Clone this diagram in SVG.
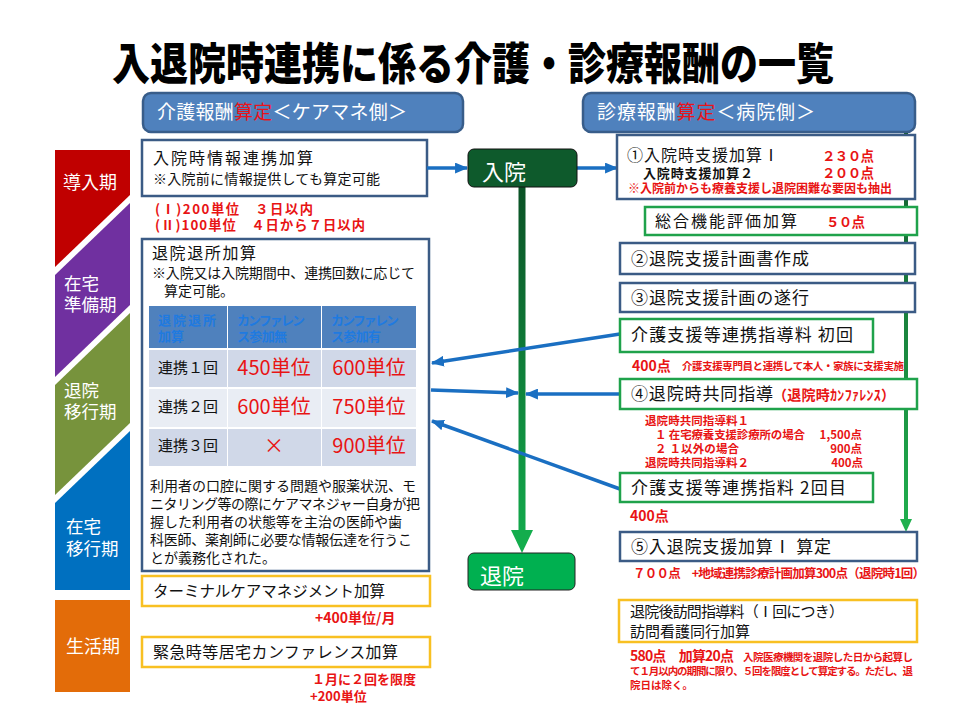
<svg xmlns="http://www.w3.org/2000/svg" width="960" height="720" viewBox="0 0 960 720">
<defs>
<style>
text{font-family:"Noto Sans CJK JP","Noto Sans",sans-serif;fill:#111}
.w{fill:#fff}
.r{fill:#e81414;font-weight:bold}
.b{font-weight:bold}
.hdr{fill:#4f81bd;stroke:#385d8a;stroke-width:2.5}
.bx{fill:#fff;stroke:#3b5b85;stroke-width:2.5}
.gb{fill:#fff;stroke:#1fa24b;stroke-width:2.5}
.yb{fill:#fff;stroke:#f8c022;stroke-width:2.5}
.arr{stroke:#1a6fc2;stroke-width:3.5;fill:none;marker-end:url(#ah)}
.th{fill:#4f81bd}
.tht{fill:#1f7ae0;font-weight:bold;font-size:13px}
.r1{fill:#d0d8e8}
.r2{fill:#e9edf4}
.red20{fill:#e81414;font-size:20px}
.ph{fill:#fff;font-size:17.5px}
</style>
<marker id="ah" viewBox="0 0 12 10" refX="11" refY="5" markerWidth="13" markerHeight="11" markerUnits="userSpaceOnUse" orient="auto">
<path d="M0,0 L12,5 L0,10 Z" fill="#1a6fc2"/>
</marker>
<linearGradient id="gc" x1="0" y1="188" x2="0" y2="553" gradientUnits="userSpaceOnUse">
<stop offset="0" stop-color="#0b5226"/>
<stop offset="1" stop-color="#13ad4d"/>
</linearGradient>
<linearGradient id="gr" x1="0" y1="132" x2="0" y2="532" gradientUnits="userSpaceOnUse">
<stop offset="0" stop-color="#145a2e"/>
<stop offset="1" stop-color="#20b04e"/>
</linearGradient>
</defs>
<rect width="960" height="720" fill="#fff"/>

<text x="112" y="80" font-size="44" font-weight="900" textLength="722" lengthAdjust="spacingAndGlyphs" style="fill:#000">入退院時連携に係る介護・診療報酬の一覧</text>

<g id="phases">
<polygon points="55,150 130,150 130,195 55,267" fill="#c00000"/>
<polygon points="130,203 130,305 55,377 55,275" fill="#7030a0"/>
<polygon points="130,313 130,423 55,495 55,385" fill="#77933c"/>
<polygon points="130,431 130,590 55,590 55,503" fill="#0070c0"/>
<rect x="55" y="600" width="75" height="92" fill="#e36c09"/>
<text class="ph" x="63" y="189" style="font-size:18px">導入期</text>
<text class="ph" x="64" y="290">在宅</text>
<text class="ph" x="64" y="311">準備期</text>
<text class="ph" x="64" y="397">退院</text>
<text class="ph" x="64" y="418">移行期</text>
<text class="ph" x="66" y="533">在宅</text>
<text class="ph" x="66" y="555">移行期</text>
<text class="ph" x="66" y="653" style="font-size:18px">生活期</text>
</g>

<g id="hdr-care">
<rect class="hdr" x="143" y="93" width="320" height="39" rx="8"/>
<text x="157" y="119" font-size="19" textLength="250"><tspan class="w">介護報酬</tspan><tspan style="fill:#e8141b">算定</tspan><tspan class="w">＜ケアマネ側＞</tspan></text>
</g>
<g id="hdr-hosp">
<rect class="hdr" x="583" y="93" width="332" height="39" rx="8"/>
<text x="597" y="119" font-size="19" textLength="218"><tspan class="w">診療報酬</tspan><tspan style="fill:#e8141b">算定</tspan><tspan class="w">＜病院側＞</tspan></text>
</g>

<g id="n-admit-info">
<rect class="bx" x="142" y="140" width="285" height="56"/>
<text x="153" y="164" font-size="16" textLength="160">入院時情報連携加算</text>
<text x="153" y="184" font-size="14" textLength="227">※入院前に情報提供しても算定可能</text>
<text class="r" x="155" y="214" font-size="13.3" textLength="158">(Ⅰ)200単位　３日以内</text>
<text class="r" x="155" y="230" font-size="13.3" textLength="210">(Ⅱ)100単位　４日から７日以内</text>
</g>

<g id="n-discharge-add">
<rect class="bx" x="142" y="239" width="287" height="332"/>
<text x="152" y="259" font-size="16" textLength="104">退院退所加算</text>
<text x="152" y="278" font-size="14" textLength="263">※入院又は入院期間中、連携回数に応じて</text>
<text x="164" y="296" font-size="14">算定可能。</text>
<rect class="th" x="149" y="306" width="78" height="42"/>
<rect class="th" x="228" y="306" width="93" height="42"/>
<rect class="th" x="322" y="306" width="94" height="42"/>
<text class="tht" x="158" y="325" textLength="58">退院退所</text>
<text class="tht" x="158" y="341">加算</text>
<text class="tht" x="237" y="325" textLength="68">カンファレン</text>
<text class="tht" x="237" y="341" textLength="50">ス参加無</text>
<text class="tht" x="331" y="325" textLength="68">カンファレン</text>
<text class="tht" x="331" y="341" textLength="50">ス参加有</text>
<rect class="r1" x="149" y="350" width="78" height="37"/>
<rect class="r1" x="228" y="350" width="93" height="37"/>
<rect class="r1" x="322" y="350" width="94" height="37"/>
<rect class="r2" x="149" y="389" width="78" height="38"/>
<rect class="r2" x="228" y="389" width="93" height="38"/>
<rect class="r2" x="322" y="389" width="94" height="38"/>
<rect class="r1" x="149" y="429" width="78" height="37"/>
<rect class="r1" x="228" y="429" width="93" height="37"/>
<rect class="r1" x="322" y="429" width="94" height="37"/>
<text x="158" y="373" font-size="15">連携１回</text>
<text x="158" y="412" font-size="15">連携２回</text>
<text x="158" y="451" font-size="15">連携３回</text>
<text class="red20" x="274" y="375" text-anchor="middle">450単位</text>
<text class="red20" x="369" y="375" text-anchor="middle">600単位</text>
<text class="red20" x="274" y="414" text-anchor="middle">600単位</text>
<text class="red20" x="369" y="414" text-anchor="middle">750単位</text>
<text class="red20" x="274" y="453" text-anchor="middle">×</text>
<text class="red20" x="369" y="453" text-anchor="middle">900単位</text>
<text x="150" y="491" font-size="14" textLength="266">利用者の口腔に関する問題や服薬状況、モ</text>
<text x="150" y="509" font-size="14" textLength="270">ニタリング等の際にケアマネジャー自身が把</text>
<text x="150" y="527" font-size="14" textLength="252">握した利用者の状態等を主治の医師や歯</text>
<text x="150" y="545" font-size="14" textLength="262">科医師、薬剤師に必要な情報伝達を行うこ</text>
<text x="150" y="563" font-size="14">とが義務化された。</text>
</g>

<g id="n-terminal">
<rect class="yb" x="142" y="576" width="288" height="30"/>
<text x="153" y="597" font-size="15.5" textLength="232">ターミナルケアマネジメント加算</text>
<text class="r" x="315" y="623" font-size="14">+400単位/月</text>
</g>

<g id="n-emergency">
<rect class="yb" x="142" y="637" width="288" height="30"/>
<text x="153" y="658" font-size="16" textLength="245">緊急時等居宅カンファレンス加算</text>
<text class="r" x="312" y="684" font-size="13">１月に２回を限度</text>
<text class="r" x="310" y="701" font-size="13">+200単位</text>
</g>

<g id="connectors">
<line class="arr" x1="427" y1="168" x2="467" y2="168"/>
<line class="arr" x1="577" y1="168" x2="617" y2="168"/>
<line x1="522" y1="187" x2="522" y2="533" stroke="url(#gc)" stroke-width="7"/>
<polygon points="511,530 533,530 522,553" fill="#13ad4d"/>
<line x1="906" y1="133" x2="906" y2="521" stroke="url(#gr)" stroke-width="4"/>
<polygon points="900,519 912,519 906,532" fill="#20b04e"/>
<line class="arr" x1="620" y1="334" x2="432" y2="363"/>
<line class="arr" x1="431" y1="390" x2="518" y2="393"/>
<line class="arr" x1="620" y1="394" x2="526" y2="394"/>
<line class="arr" x1="620" y1="489" x2="432" y2="421"/>
</g>

<g id="n-admit">
<rect x="468" y="149" width="109" height="38" rx="6" fill="#0e5a2c" stroke="#111" stroke-width="1"/>
<text class="w" x="482" y="180" font-size="22">入院</text>
</g>

<g id="n-discharge">
<rect x="468" y="553" width="107" height="37" rx="6" fill="#00b050" stroke="#222" stroke-width="1"/>
<text class="w" x="480" y="584" font-size="22">退院</text>
</g>

<g id="n-r1">
<rect class="bx" x="617" y="135" width="298" height="64"/>
<text x="627" y="161" font-size="16" textLength="152">①入院時支援加算Ⅰ</text>
<text class="r" x="822" y="161" font-size="13.5" textLength="52">２３０点</text>
<text class="b" x="643" y="178" font-size="13" textLength="110">入院時支援加算２</text>
<text class="r" x="822" y="178" font-size="13.5" textLength="52">２００点</text>
<text class="r" x="628" y="193" font-size="12" textLength="264">※入院前からも療養支援し退院困難な要因も抽出</text>
</g>

<g id="n-r-cga">
<rect class="gb" x="645" y="207" width="272" height="28"/>
<text x="655" y="227" font-size="16" textLength="142">総合機能評価加算</text>
<text class="r" x="826" y="227" font-size="13.5" textLength="39">５０点</text>
</g>

<g id="n-r2">
<rect class="bx" x="620" y="243" width="295" height="31"/>
<text x="631" y="265" font-size="17" textLength="178">②退院支援計画書作成</text>
</g>

<g id="n-r3">
<rect class="bx" x="620" y="283" width="295" height="29"/>
<text x="631" y="304" font-size="17" textLength="178">③退院支援計画の遂行</text>
</g>

<g id="n-r-care1">
<rect class="gb" x="620" y="319" width="253" height="33"/>
<text x="631" y="341" font-size="17" textLength="222">介護支援等連携指導料  初回</text>
<text class="r" x="632" y="371" font-size="14">400点</text>
<text class="r" x="682" y="370" font-size="10.5" textLength="222">介護支援専門員と連携して本人・家族に支援実施</text>
</g>

<g id="n-r4">
<rect class="gb" x="620" y="379" width="297" height="30"/>
<text x="631" y="400" font-size="17" textLength="142">④退院時共同指導</text>
<text class="r" x="773" y="400" font-size="14" textLength="122">（退院時ｶﾝﾌｧﾚﾝｽ）</text>
<text class="r" x="645" y="425" font-size="11.5" textLength="104">退院時共同指導料１</text>
<text class="r" x="655" y="439" font-size="11.5" textLength="150">１ 在宅療養支援診療所の場合</text>
<text class="r" x="862" y="439" font-size="11.5" text-anchor="end">1,500点</text>
<text class="r" x="655" y="453" font-size="11.5" textLength="84">２ １以外の場合</text>
<text class="r" x="862" y="453" font-size="11.5" text-anchor="end">900点</text>
<text class="r" x="645" y="467" font-size="11.5" textLength="104">退院時共同指導料２</text>
<text class="r" x="863" y="467" font-size="11.5" text-anchor="end">400点</text>
</g>

<g id="n-r-care2">
<rect class="gb" x="620" y="473" width="253" height="29"/>
<text x="631" y="494" font-size="17" textLength="215">介護支援等連携指料  2回目</text>
<text class="r" x="630" y="521" font-size="14">400点</text>
</g>

<g id="n-r5">
<rect class="bx" x="620" y="532" width="297" height="29"/>
<text x="631" y="553" font-size="17" textLength="200">⑤入退院支援加算Ⅰ  算定</text>
<text class="r" x="633" y="578" font-size="12.5" textLength="292">７００点　+地域連携診療計画加算300点（退院時1回）</text>
</g>

<g id="n-r-visit">
<rect class="yb" x="619" y="600" width="298" height="42"/>
<text x="630" y="617" font-size="15" textLength="214">退院後訪問指導料（Ⅰ回につき）</text>
<text x="630" y="637" font-size="15" textLength="120">訪問看護同行加算</text>
<text class="r" x="630" y="661" font-size="14" textLength="104">580点　加算20点</text>
<text class="r" x="743" y="661" font-size="10.5" textLength="170">入院医療機関を退院した日から起算し</text>
<text class="r" x="630" y="675" font-size="10.5" textLength="283">て１月以内の期間に限り、５回を限度として算定する。ただし、退</text>
<text class="r" x="630" y="689" font-size="10.5">院日は除く。</text>
</g>
</svg>
